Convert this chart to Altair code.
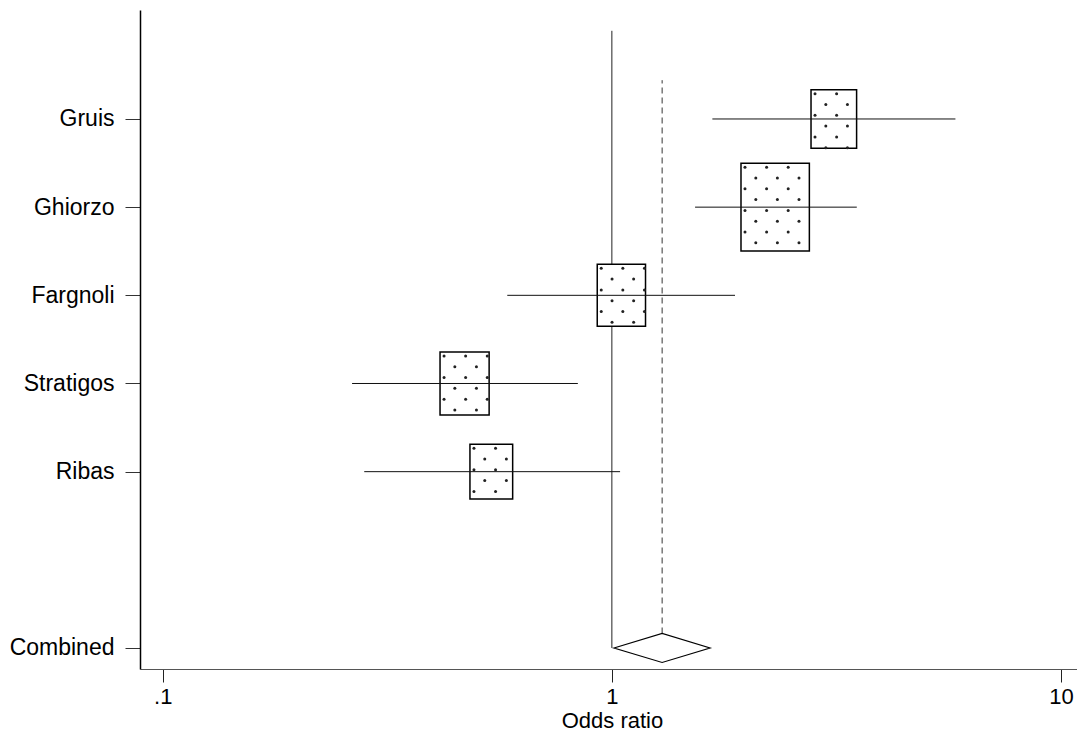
import math
import altair as alt
import pandas as pd

# ---- data ----
studies = ["Gruis", "Ghiorzo", "Fargnoli", "Stratigos", "Ribas"]
positions = [7, 6, 5, 4, 3]
odds_ratio = [3.12, 2.31, 1.05, 0.470, 0.539]
ci_low = [1.674, 1.532, 0.585, 0.264, 0.281]
ci_high = [5.82, 3.51, 1.88, 0.840, 1.043]
weights = [15.6, 35.1, 17.5, 18.1, 13.7]  # percent weight -> box area

combined_label = "Combined"
combined_pos = 1
combined_or = 1.294
combined_low = 1.011
combined_high = 1.654

x_ticks = [0.1, 1, 10]
x_tick_labels = [".1", "1", "10"]

# ---- layout ----
W, H = 937, 659
X_DOMAIN = [0.08901, 10.854]
Y_DOMAIN = [0.7618, 8.236]
px_per_dec = W / (math.log10(X_DOMAIN[1]) - math.log10(X_DOMAIN[0]))
px_per_unit = H / (Y_DOMAIN[1] - Y_DOMAIN[0])

BOX_W = 11.54   # px per sqrt(weight)
BOX_H = 14.83
DOT_STEP = 10.8
DOT_OFF = 4.0
DIAMOND_HALF = 14.5 / px_per_unit
DASH_TOP = 7.44
NULL_TOP = 8.0

rows = []
dots = []
for s, p, o, l, h, w in zip(studies, positions, odds_ratio, ci_low, ci_high, weights):
    wpx = BOX_W * math.sqrt(w)
    hpx = BOX_H * math.sqrt(w)
    xl = math.log10(o) - wpx / 2 / px_per_dec
    xr = math.log10(o) + wpx / 2 / px_per_dec
    yt = p + hpx / 2 / px_per_unit
    yb = p - hpx / 2 / px_per_unit
    rows.append(dict(study=s, pos=p, lo=l, hi=h, bx1=10 ** xl, bx2=10 ** xr, by1=yb, by2=yt))
    i = 0
    while i * DOT_STEP + DOT_OFF <= wpx:
        j = 0
        while j * DOT_STEP + DOT_OFF <= hpx:
            if (i + j) % 2 == 0:
                dots.append(dict(dx=10 ** (xl + (i * DOT_STEP + DOT_OFF) / px_per_dec),
                                 dy=yt - (j * DOT_STEP + DOT_OFF) / px_per_unit))
            j += 1
        i += 1

df = pd.DataFrame(rows)
dots_df = pd.DataFrame(dots)
diamond_df = pd.DataFrame({
    "x": [combined_low, combined_or, combined_high],
    "yt": [combined_pos, combined_pos + DIAMOND_HALF, combined_pos],
    "yb": [combined_pos, combined_pos - DIAMOND_HALF, combined_pos],
})
null_df = pd.DataFrame({"x": [1.0], "y1": [combined_pos], "y2": [NULL_TOP]})
dash_df = pd.DataFrame({"x": [combined_or], "y1": [combined_pos + DIAMOND_HALF], "y2": [DASH_TOP]})

FONT = "Liberation Sans"

x_label_expr = " : ".join(
    f"datum.value < {v * 1.5} ? '{t}'" for v, t in zip(x_ticks[:-1], x_tick_labels[:-1])
) + f" : '{x_tick_labels[-1]}'"
y_labels = list(zip(positions, studies)) + [(combined_pos, combined_label)]
y_label_expr = " : ".join(f"datum.value == {p} ? '{s}'" for p, s in y_labels) + " : ''"

xscale = alt.Scale(type="log", domain=X_DOMAIN, nice=False)
yscale = alt.Scale(domain=Y_DOMAIN, nice=False, zero=False)
xaxis = alt.Axis(values=x_ticks, labelExpr=x_label_expr, tickSize=13, labelPadding=4,
                 domainColor="#555", tickColor="#222", labelFont=FONT, labelFontSize=22,
                 labelColor="black", titleFont=FONT, titleFontSize=22, titleFontWeight="normal",
                 titleColor="black", titlePadding=3, grid=False, labelFlush=False,
                 titleX=472, title="Odds ratio")
yaxis = alt.Axis(values=[p for p, _ in y_labels], labelExpr=y_label_expr, tickSize=15,
                 labelPadding=11, domainColor="black", domainWidth=1.5, tickColor="#333",
                 labelFont=FONT, labelFontSize=23, labelColor="black", grid=False,
                 labelFlush=False, labelOverlap=False, title=None)


def X(f):
    return alt.X(f"{f}:Q", scale=xscale, axis=xaxis)


def Y(f):
    return alt.Y(f"{f}:Q", scale=yscale, axis=yaxis)


null_line = alt.Chart(null_df).mark_rule(color="#222", strokeWidth=1).encode(
    x=X("x"), y=Y("y1"), y2="y2")
dash_line = alt.Chart(dash_df).mark_rule(color="#333", strokeWidth=1, strokeDash=[6, 4]).encode(
    x=X("x"), y=Y("y1"), y2="y2")
boxes = alt.Chart(df).mark_rect(fill="white", stroke="black", strokeWidth=1.5).encode(
    x=X("bx1"), x2="bx2", y=Y("by1"), y2="by2")
cis = alt.Chart(df).mark_rule(color="#111", strokeWidth=1).encode(
    x=X("lo"), x2="hi", y=Y("pos"))
dot_layer = alt.Chart(dots_df).mark_circle(size=9, color="#222", opacity=1).encode(
    x=X("dx"), y=Y("dy"))
diamond = alt.Chart(diamond_df).mark_area(fill="white", stroke="black", strokeWidth=1.2,
                                          interpolate="linear").encode(
    x=X("x"), y=Y("yt"), y2="yb")

chart = alt.layer(null_line, dash_line, boxes, cis, dot_layer, diamond).properties(
    width=W, height=H,
    autosize=alt.AutoSizeParams(type="none"),
    padding={"left": 140, "top": 10, "right": 0, "bottom": 65},
).configure_view(stroke=None)

chart.save("out.html", embed_options={"renderer": "svg", "actions": False})
